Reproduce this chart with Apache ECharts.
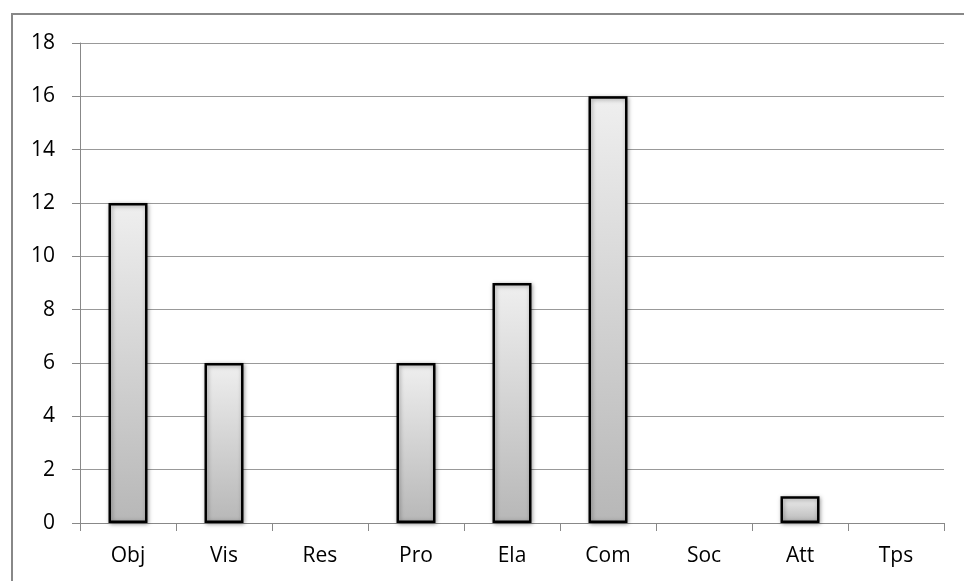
<!DOCTYPE html>
<html><head><meta charset="utf-8">
<script src="https://cdn.jsdelivr.net/npm/echarts@6/dist/echarts.min.js"></script>
<style>html,body{margin:0;padding:0;background:#fff}#c{width:964px;height:581px}</style>
</head><body><div id="c"></div>
<script>
const categories = ['Obj','Vis','Res','Pro','Ela','Com','Soc','Att','Tps'];
const values = [12, 6, 0, 6, 9, 16, 0, 1, 0];
const yTicks = [0, 2, 4, 6, 8, 10, 12, 14, 16, 18];

const chart = echarts.init(document.getElementById('c'), null, {renderer:'canvas'});
const font = '"Open Sans", "Noto Sans", sans-serif';
chart.setOption({
  animation: false,
  backgroundColor: '#fff',
  graphic: [{
    type: 'rect', silent: true, z: 100,
    shape: {x: 12, y: 14, width: 1200, height: 1200},
    style: {fill: 'none', stroke: '#888', lineWidth: 2}
  }],
  grid: {left: 80, right: 20, top: 43, bottom: 58, containLabel: false},
  xAxis: {
    type: 'category', data: categories,
    axisLine: {lineStyle: {color: '#888', width: 1}},
    axisTick: {show: true, length: 8, alignWithLabel: false, lineStyle: {color: '#888'}},
    axisLabel: {color: '#000', fontSize: 21, fontFamily: font, margin: 23},
  },
  yAxis: {
    type: 'value', min: yTicks[0], max: yTicks[yTicks.length-1], interval: 2,
    axisLine: {show: true, lineStyle: {color: '#888', width: 1}},
    axisTick: {show: true, length: 8, lineStyle: {color: '#888'}},
    splitLine: {lineStyle: {color: '#999', width: 1}},
    axisLabel: {color: '#000', fontSize: 21, fontFamily: font, margin: 25},
  },
  series: [{
    type: 'bar', barWidth: 39,
    data: values.map(v => v === 0 ? {value: v, itemStyle: {opacity: 0}} : v),
    itemStyle: {
      color: new echarts.graphic.LinearGradient(0, 0, 0, 1, [
        {offset: 0, color: '#efefef'}, {offset: 1, color: '#b7b7b7'}
      ]),
      borderColor: '#000', borderWidth: 2.5,
      shadowBlur: 4, shadowColor: 'rgba(0,0,0,0.35)', shadowOffsetX: 1, shadowOffsetY: 1
    }
  }]
});
</script></body></html>
